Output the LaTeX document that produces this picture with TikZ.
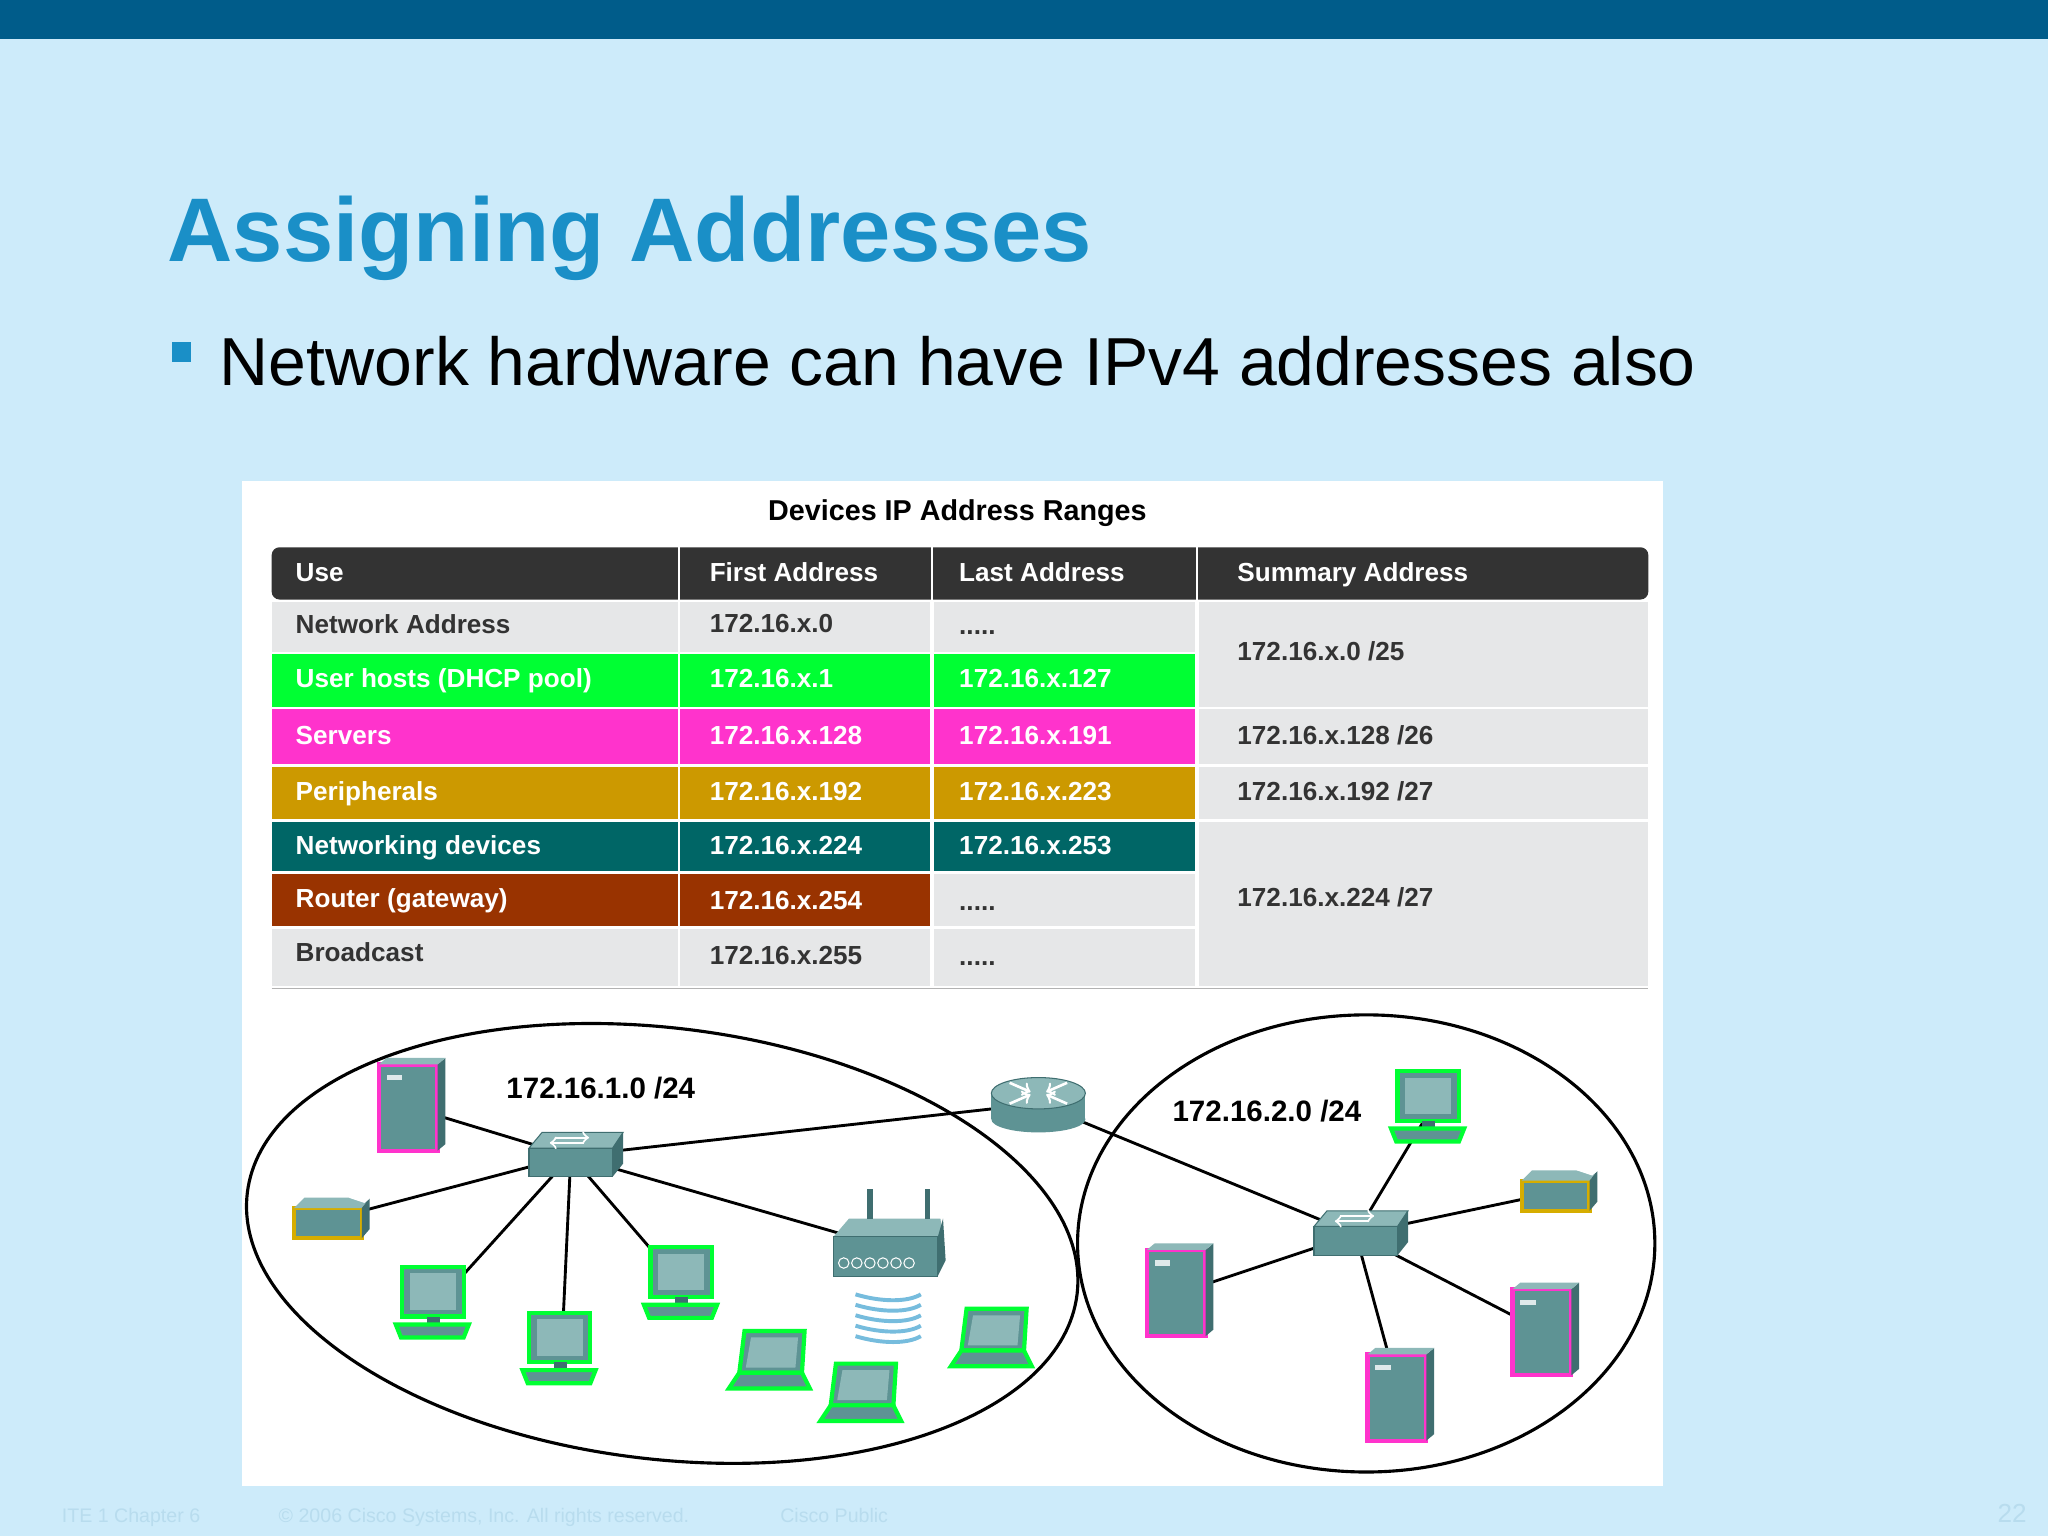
\documentclass[tikz,border=0pt]{standalone}
\usepackage{fontspec}
\setmainfont{Liberation Sans}
\usetikzlibrary{calc}
\definecolor{bg}{HTML}{CDEBFA}
\definecolor{bar}{HTML}{005C8A}
\definecolor{ttl}{HTML}{1A8FC7}
\definecolor{hdr}{HTML}{333333}
\definecolor{gry}{HTML}{E6E7E8}
\definecolor{cgreen}{HTML}{00FF33}
\definecolor{cmag}{HTML}{FF33CC}
\definecolor{cgold}{HTML}{CC9900}
\definecolor{cteal}{HTML}{006666}
\definecolor{cbrown}{HTML}{993300}
\definecolor{dev}{HTML}{5E9394}
\definecolor{devd}{HTML}{3F6E70}
\definecolor{devl}{HTML}{8DB8B8}
\definecolor{foot}{HTML}{B8DCEE}
\tikzset{
 x=0.5pt,y=-0.5pt,
 cell/.style={font=\fontsize{10}{12}\selectfont\bfseries,anchor=west,inner sep=0,text height=1.6ex,text depth=0.45ex},
 hd/.style={cell,text=white},
 net/.style={line width=1.2pt,black},
 link/.style={line width=1.1pt,black},
 dn/.style={inner sep=0,minimum size=20pt},
 glowg/.style={draw=cgreen,line width=1.6pt},
 glowm/.style={draw=cmag,line width=1.6pt},
 glowy/.style={draw=cgold!80!yellow,line width=1.6pt},
 server/.pic={\draw[glowm,fill=dev] (-25,-33) rectangle (20,33);
   \fill[devd] (20,-33) -- (26,-38) -- (26,28) -- (20,33) -- cycle;
   \fill[devl] (-25,-33) -- (-19,-38) -- (26,-38) -- (20,-33) -- cycle;
   \fill[white!80!dev] (-19,-25) rectangle (-7,-21);},
 pc/.pic={\draw[glowg,fill=dev] (-25,-30) rectangle (22,8);
   \fill[devl] (-19,-25) rectangle (16,3);
   \fill[devd] (-6,8) rectangle (4,14);
   \draw[glowg,fill=dev] (-30,14) -- (26,14) -- (22,24) -- (-26,24) -- cycle;},
 laptop/.pic={\draw[glowg,fill=dev] (-20,-26) -- (26,-26) -- (24,6) -- (-24,6) -- cycle;
   \fill[devl] (-15,-21) -- (21,-21) -- (19,2) -- (-19,2) -- cycle;
   \draw[glowg,fill=dev] (-24,6) -- (24,6) -- (30,18) -- (-32,18) -- cycle;},
 printer/.pic={\draw[glowy,fill=dev] (-30,-8) -- (22,-8) -- (22,15) -- (-30,15) -- cycle;
   \fill[devl] (-30,-8) -- (-22,-16) -- (28,-16) -- (22,-8) -- cycle;
   \fill[devd] (22,-8) -- (28,-16) -- (28,8) -- (22,15) -- cycle;
   \fill[white] (12,-16) -- (30,-30) -- (36,-22) -- (24,-12) -- cycle;},
 switch/.pic={\fill[devl,draw=devd] (-32,-6) -- (-22,-18) -- (40,-18) -- (32,-6) -- cycle;
   \fill[dev,draw=devd] (-32,-6) rectangle (32,16);
   \fill[devd] (32,-6) -- (40,-18) -- (40,6) -- (32,16) -- cycle;
   \draw[white,line width=0.8pt,->] (-12,-14) -- (14,-14);
   \draw[white,line width=0.8pt,<-] (-16,-10) -- (10,-10);},
 router/.pic={\fill[dev] (-36,-8) rectangle (36,12);
   \fill[dev] (0,12) ellipse (36 and 10);
   \fill[devl,draw=devd] (0,-8) ellipse (36 and 12);
   \draw[white,line width=1pt,->] (-22,-16) -- (-6,-9);
   \draw[white,line width=1pt,->] (22,-16) -- (6,-9);
   \draw[white,line width=1pt,->] (-22,0) -- (-6,-7);
   \draw[white,line width=1pt,->] (22,0) -- (6,-7);},
 wrt/.pic={\fill[devl] (-42,-8) -- (-30,-22) -- (40,-22) -- (42,-8) -- cycle;
   \fill[dev,draw=devd] (-42,-8) rectangle (38,22);
   \fill[devd] (38,-8) -- (42,-22) -- (44,10) -- (38,22) -- cycle;
   \draw[devd,line width=2pt] (-14,-22) -- (-14,-45) (30,-22) -- (30,-45);
   \foreach \i in {0,1,2,3,4,5} \draw[white] (-34+\i*10,12) circle (4);
   \foreach \i in {0,1,2,3,4} \draw[ttl!60,line width=1.5pt] (-25,36+\i*8) .. controls (-5,42+\i*8) and (15,42+\i*8) .. (25,36+\i*8);},
}
\begin{document}
\begin{tikzpicture}
\useasboundingbox (0,0) rectangle (1568,1176);
\fill[bg] (0,0) rectangle (1568,1176);
\fill[bar] (0,0) rectangle (1568,30);
\node[anchor=base west,inner sep=0,text=ttl,font=\fontsize{34.6}{40}\selectfont\bfseries] (title) at (128,200) {Assigning Addresses};
\fill[ttl] (132,262) rectangle (146,277);
\node[anchor=base west,inner sep=0,font=\fontsize{26}{30}\selectfont] (bul) at (168,295) {Network hardware can have IPv4 addresses also};
\fill[white] (185,368) rectangle (1273,1138);
\node[font=\fontsize{11}{13}\selectfont\bfseries] (cap) at (733,393) {Devices IP Address Ranges};
% table
\fill[hdr,rounded corners=3pt] (208,419) rectangle (1262,459);
\draw[white,line width=1pt] (520,419) -- (520,459) (713.5,419) -- (713.5,459) (916.5,419) -- (916.5,459);
\fill[gry] (208,461) rectangle (519,499);\fill[gry] (521,461) rectangle (712,499);\fill[gry] (715,461) rectangle (915,499);
\fill[cgreen] (208,501) rectangle (519,541);\fill[cgreen] (521,501) rectangle (712,541);\fill[cgreen] (715,501) rectangle (915,541);
\fill[cmag] (208,543) rectangle (519,585);\fill[cmag] (521,543) rectangle (712,585);\fill[cmag] (715,543) rectangle (915,585);
\fill[cgold] (208,587) rectangle (519,627);\fill[cgold] (521,587) rectangle (712,627);\fill[cgold] (715,587) rectangle (915,627);
\fill[cteal] (208,629) rectangle (519,667);\fill[cteal] (521,629) rectangle (712,667);\fill[cteal] (715,629) rectangle (915,667);
\fill[cbrown] (208,669) rectangle (519,709);\fill[cbrown] (521,669) rectangle (712,709);
\fill[gry] (715,669) rectangle (915,709);
\fill[gry] (208,711) rectangle (519,755);\fill[gry] (521,711) rectangle (712,755);\fill[gry] (715,711) rectangle (915,755);
\fill[gry] (918,461) rectangle (1262,541);\fill[gry] (918,543) rectangle (1262,585);
\fill[gry] (918,587) rectangle (1262,627);\fill[gry] (918,629) rectangle (1262,755);
\draw[gray!60] (208,757) -- (1262,757);
\node[hd] (h1) at (226,439) {Use};
\node[hd] (h2) at (543,439) {First Address};
\node[hd] (h3) at (734,439) {Last Address};
\node[hd] (h4) at (947,439) {Summary Address};
\node[cell,text=hdr] (r1a) at (226,479) {Network Address};
\node[cell,text=hdr] (r1b) at (543,478) {172.16.x.0};
\node[cell,text=hdr] (r1c) at (734,480) {.....};
\node[cell,text=white] (r2a) at (226,520) {User hosts (DHCP pool)};
\node[cell,text=white] (r2b) at (543,520) {172.16.x.1};
\node[cell,text=white] (r2c) at (734,520) {172.16.x.127};
\node[cell,text=white] (r3a) at (226,564) {Servers};
\node[cell,text=white] (r3b) at (543,564) {172.16.x.128};
\node[cell,text=white] (r3c) at (734,564) {172.16.x.191};
\node[cell,text=white] (r4a) at (226,607) {Peripherals};
\node[cell,text=white] (r4b) at (543,607) {172.16.x.192};
\node[cell,text=white] (r4c) at (734,607) {172.16.x.223};
\node[cell,text=white] (r5a) at (226,648) {Networking devices};
\node[cell,text=white] (r5b) at (543,648) {172.16.x.224};
\node[cell,text=white] (r5c) at (734,648) {172.16.x.253};
\node[cell,text=white] (r6a) at (226,689) {Router (gateway)};
\node[cell,text=white] (r6b) at (543,690) {172.16.x.254};
\node[cell,text=hdr] (r6c) at (734,691) {.....};
\node[cell,text=hdr] (r7a) at (226,730) {Broadcast};
\node[cell,text=hdr] (r7b) at (543,732) {172.16.x.255};
\node[cell,text=hdr] (r7c) at (734,733) {.....};
\node[cell,text=hdr] (s1) at (947,500) {172.16.x.0 /25};
\node[cell,text=hdr] (s2) at (947,564) {172.16.x.128 /26};
\node[cell,text=hdr] (s3) at (947,607) {172.16.x.192 /27};
\node[cell,text=hdr] (s4) at (947,688) {172.16.x.224 /27};
% networks
\draw[net,rotate around={-7:(507,952)}] (507,952) ellipse (320 and 165);
\draw[net] (1046,952) ellipse (221 and 175);
\node[font=\fontsize{11.3}{13}\selectfont\bfseries] (l1) at (460,833) {172.16.1.0 /24};
\node[font=\fontsize{11.3}{13}\selectfont\bfseries] (l2) at (970,851) {172.16.2.0 /24};
% device anchors
\node[dn] (sw1) at (437,885) {};
\node[dn] (rt) at (795,845) {};
\node[dn] (sw2) at (1038,945) {};
\node[dn] (sv1) at (315,848) {};
\node[dn] (pr1) at (255,933) {};
\node[dn] (pc1) at (333,1000) {};
\node[dn] (pc2) at (430,1035) {};
\node[dn] (pc3) at (523,985) {};
\node[dn] (wr) at (680,955) {};
\node[dn] (lp1) at (590,1045) {};
\node[dn] (lp2) at (660,1070) {};
\node[dn] (lp3) at (760,1028) {};
\node[dn] (pc4) at (1095,850) {};
\node[dn] (pr2) at (1195,912) {};
\node[dn] (sv2) at (903,990) {};
\node[dn] (sv3) at (1183,1020) {};
\node[dn] (sv4) at (1072,1070) {};
% links
\draw[link] (sw1.center) -- (sv1.center);
\draw[link] (sw1.center) -- (pr1.center);
\draw[link] (sw1.center) -- (pc1.center);
\draw[link] (sw1.center) -- (pc2.center);
\draw[link] (sw1.center) -- (pc3.center);
\draw[link] (sw1.center) -- (wr.center);
\draw[link] (sw1.center) -- (rt.center);
\draw[link] (rt.center) -- (sw2.center);
\draw[link] (sw2.center) -- (pc4.center);
\draw[link] (sw2.center) -- (pr2.center);
\draw[link] (sw2.center) -- (sv2.center);
\draw[link] (sw2.center) -- (sv3.center);
\draw[link] (sw2.center) -- (sv4.center);
% devices
\pic at (sw1) {switch};
\pic at (sw2) {switch};
\pic at (rt) {router};
\pic at (wr) {wrt};
\pic at (sv1) {server};\pic at (sv2) {server};\pic at (sv3) {server};\pic at (sv4) {server};
\pic at (pr1) {printer};\pic at (pr2) {printer};
\pic at (pc1) {pc};\pic at (pc2) {pc};\pic at (pc3) {pc};\pic at (pc4) {pc};
\pic at (lp1) {laptop};\pic at (lp2) {laptop};\pic at (lp3) {laptop};
% footer
\node[anchor=base west,inner sep=0,text=foot,font=\fontsize{7.5}{9}\selectfont] (f1) at (47,1166) {ITE 1 Chapter 6};
\node[anchor=base west,inner sep=0,text=foot,font=\fontsize{7.5}{9}\selectfont] (f2) at (213,1166) {© 2006 Cisco Systems, Inc. All rights reserved.};
\node[anchor=base west,inner sep=0,text=foot,font=\fontsize{7.5}{9}\selectfont] (f3) at (597,1166) {Cisco Public};
\node[anchor=base east,inner sep=0,text=foot,font=\fontsize{10}{12}\selectfont] (f4) at (1552,1166) {22};
\end{tikzpicture}
\end{document}
